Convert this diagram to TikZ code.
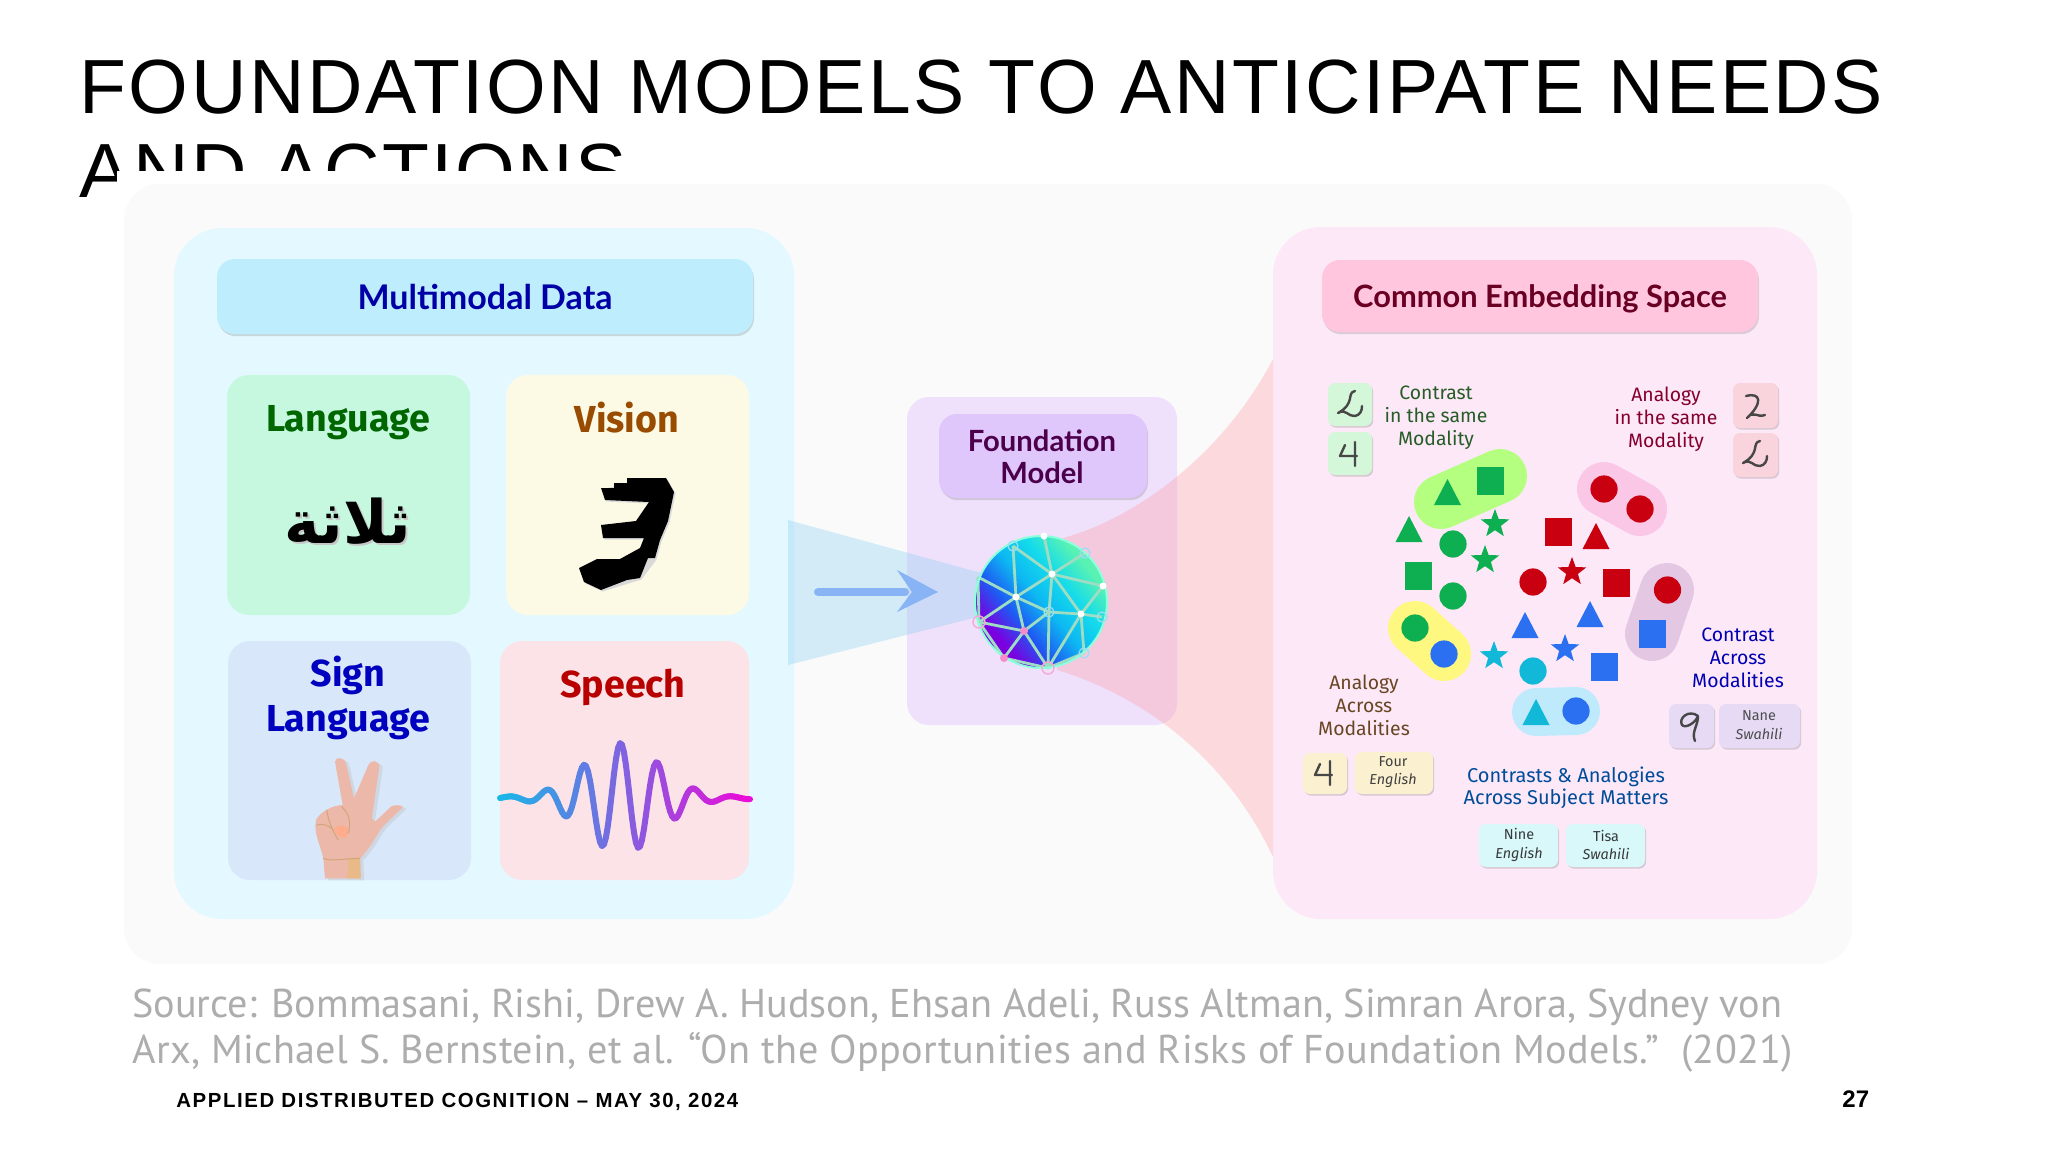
\documentclass[tikz,border=0pt]{standalone}
\usepackage{fontspec}
\usetikzlibrary{shadows,arrows.meta}
\TeXXeTstate=1
\setmainfont{Liberation Sans}
\newfontfamily\titlef[LetterSpace=3.3]{Liberation Sans}
\newfontfamily\footf[LetterSpace=7.7]{Liberation Sans}
\newfontfamily\srcf{PT Sans}
\newfontfamily\srcg[LetterSpace=.9]{PT Sans}
\newfontfamily\headf{Lato}
\newfontfamily\ubu{Fira Sans}
\newfontfamily\arabicfont[Script=Arabic]{DejaVu Sans}
\newcommand{\fsz}[2]{\fontsize{#1}{#2}\selectfont}
\definecolor{cardbg}{HTML}{FAFAFA}
\definecolor{leftp}{HTML}{E3F9FF}
\definecolor{rightp}{HTML}{FDE8F8}
\definecolor{midp}{HTML}{EFE1FB}
\definecolor{gshape}{HTML}{0DAF50}
\definecolor{rshape}{HTML}{C80010}
\definecolor{bshape}{HTML}{2A70F0}
\definecolor{cshape}{HTML}{12B8D8}
\definecolor{wcyan}{HTML}{18B8E8}
\definecolor{wmag}{HTML}{EA0CD8}
\definecolor{tlang}{HTML}{C6F8E0}
\definecolor{tvis}{HTML}{FCF9E5}
\definecolor{tsign}{HTML}{D8E8FA}
\definecolor{tspeech}{HTML}{FBE3E8}
\definecolor{bmulti}{HTML}{BEEDFE}
\definecolor{bfound}{HTML}{DFC6FB}
\definecolor{bcommon}{HTML}{FFC6DE}
\definecolor{arrowc}{HTML}{88B4F5}
\definecolor{fanblue}{HTML}{8CCDF2}
\definecolor{fanred}{HTML}{FF9DA8}
\definecolor{mgreen}{HTML}{D4F7DA}
\definecolor{mred}{HTML}{F9D4DC}
\definecolor{mcream}{HTML}{FBF0CF}
\definecolor{mviolet}{HTML}{E6DAF5}
\definecolor{mcyan}{HTML}{D8F8FA}
\pgfdeclarehorizontalshading{orbgrad}{100bp}{rgb(0bp)=(.48,0,.88);rgb(29bp)=(.48,0,.88);rgb(39bp)=(.12,.35,.95);rgb(50bp)=(.05,.72,.95);rgb(61bp)=(.08,.86,.92);rgb(72bp)=(.35,.95,.7);rgb(100bp)=(.35,.95,.7)}
\tikzset{
  every node/.style={inner sep=0pt,align=center},
  panel/.style={rounded corners=24pt},
  tile/.style={rounded corners=11pt},
  headbox/.style={rounded corners=9pt,drop shadow={shadow xshift=.5pt,shadow yshift=-1.1pt,opacity=.22,fill=black!60}},
  minicard/.style={rounded corners=3.5pt,drop shadow={shadow xshift=.6pt,shadow yshift=-.8pt,opacity=.25,fill=black!60}},
  digit/.style={draw=black!72,line width=1.2pt,line cap=round,line join=round},
  pill/.style={line width=27pt,line cap=round},
  titletext/.style={font=\titlef\fsz{38.4}{40},anchor=base west,text=black},
  srctext/.style={font=\srcf\fsz{20.1}{22},anchor=base west,text=black!32},
  foottext/.style={font=\footf\bfseries\fsz{10.2}{12},anchor=base west,text=black},
  headtext/.style={font=\headf\bfseries\fsz{17}{18}},
  tiletext/.style={font=\ubu\bfseries\fsz{18.8}{22},anchor=base},
  smalltext/.style={font=\ubu\fsz{9.7}{11.5}},
  subtext/.style={font=\ubu\fsz{7.2}{9.2}},
}
\newcommand{\tri}[3]{\fill[#3] (#1-13.5,#2+13) -- (#1,#2-13) -- (#1+13.5,#2+13) -- cycle;}
\newcommand{\squ}[3]{\fill[#3] (#1-13.5,#2-14) rectangle (#1+13.5,#2+14);}
\newcommand{\cir}[3]{\fill[#3] (#1,#2) circle (13.6);}
\newcommand{\sta}[3]{\fill[#3,shift={(#1,#2)}] (-90:15) -- (-54:6.2) -- (-18:15) -- (18:6.2) -- (54:15) -- (90:6.2) -- (126:15) -- (162:6.2) -- (198:15) -- (234:6.2) -- cycle;}
\newcommand{\hwtwo}[2]{\draw[digit,shift={(#1,#2)}] (5,-14) .. controls (-4,-12) and (6,-2) .. (-12,8) .. controls (-4,3) and (-2,12) .. (5,11) .. controls (10,10) and (12,6) .. (12,1);}
\newcommand{\hwfour}[2]{\draw[digit,shift={(#1,#2)}] (-5,-9) -- (-10,2) -- (7,2) (5,-12) -- (5,12);}
\begin{document}
\begin{tikzpicture}[x=.5pt,y=-.5pt]
\useasboundingbox (0,0) rectangle (2048,1152);
\fill[white] (0,0) rectangle (2048,1152);
% title
\node[titletext] (title1) at (79,113) {FOUNDATION MODELS TO ANTICIPATE NEEDS};
\node[titletext] (title2) at (79,197) {AND ACTIONS};
\fill[white] (117,171) rectangle (2048,1000);
% image card
\fill[cardbg,rounded corners=18pt] (124,184) rectangle (1852,964);
\fill[leftp,panel] (174,228) rectangle (794,919);
\fill[rightp,panel] (1273,227) rectangle (1817,919);
\fill[midp,rounded corners=11pt] (907,397) rectangle (1177,725);
% fans
\fill[fanred,opacity=.35] (1063,538) .. controls (1130,520) and (1220,460) .. (1273,359) -- (1273,857) .. controls (1225,755) and (1140,695) .. (1057,670) -- cycle;
\fill[fanblue,opacity=.35] (788,520) -- (985,574) -- (985,615) -- (788,665) -- cycle;
% arrow
\coordinate (arrowstart) at (818,592);
\coordinate (arrowend) at (938,592);
\draw[line width=4pt,line cap=round,color=arrowc] (arrowstart) -- (905,592);
\fill[arrowc] (arrowend) -- (897,570) -- (912,592) -- (897,612) -- cycle;
% left panel contents
\path[fill=bmulti,headbox] (217,259) rectangle (753,334);
\node[headtext,text=blue!65!black] (mmd) at (485,297) {Multimodal Data};
\fill[tlang,tile] (227,375) rectangle (470,615);
\fill[tvis,tile] (506,375) rectangle (749,615);
\fill[tsign,tile] (228,641) rectangle (471,880);
\fill[tspeech,tile] (500,641) rectangle (749,880);
\node[tiletext,text=green!40!black] (lang) at (348,431) {Language};
\node[tiletext,text=orange!60!black] (vis) at (627,432) {Vision};
\node[tiletext,text=blue!75!black] (sign) at (348,686) {Sign};
\node[tiletext,text=blue!75!black] (sign2) at (348,731) {Language};
\node[tiletext,text=red!72!black] (speech) at (623,697) {Speech};
% arabic
\node[font=\arabicfont\bfseries\fsz{30}{34},text=black!22] (arabshadow) at (350,523) {\beginR ثلاثة\endR};
\node[font=\arabicfont\bfseries\fsz{30}{34},text=black] (arab) at (348,521) {\beginR ثلاثة\endR};
% digit three
\fill[black!15,shift={(1.5,1.5)}] (601,488) -- (627,481) -- (666,478) -- (674,492) -- (668,521) -- (660,540) -- (655,558) -- (640,578) -- (601,590) -- (584,582) -- (579,568) -- (597,559) -- (620,559) -- (640,548) -- (644,538) -- (603,538) -- (601,525) -- (636,521) -- (649,502) -- (605,500) -- cycle;
\fill[black] (601,488) -- (614,488) -- (614,483) -- (627,483) -- (627,478) -- (666,478) -- (674,492) -- (668,521) -- (660,540) -- (655,558) -- (648,558) -- (640,578) -- (627,580) -- (601,590) -- (584,582) -- (579,568) -- (597,559) -- (620,559) -- (640,548) -- (644,538) -- (603,538) -- (601,525) -- (636,521) -- (649,502) -- (605,500) -- cycle;
% hand
\begin{scope}[shift={(270,730)},x=.1667pt,y=-.1667pt]
\fill[black!25,opacity=.4,shift={(10,6)}] (165,445) -- (160,385) .. controls (150,340) and (130,310) .. (138,270) .. controls (150,245) and (190,225) .. (218,225) -- (195,95) .. controls (195,80) and (222,80) .. (228,100) -- (252,205) -- (295,105) .. controls (300,88) and (328,90) .. (328,110) -- (305,265) -- (315,275) -- (365,228) .. controls (385,222) and (400,228) .. (398,232) .. controls (375,255) and (345,280) .. (330,300) .. controls (310,335) and (290,365) .. (270,385) -- (272,445) -- cycle;
\fill[orange!45!red!28!white!92!black] (165,445) -- (160,385) .. controls (150,340) and (130,310) .. (138,270) .. controls (150,245) and (190,225) .. (218,225) -- (195,95) .. controls (195,80) and (222,80) .. (228,100) -- (252,205) -- (295,105) .. controls (300,88) and (328,90) .. (328,110) -- (305,265) -- (315,275) -- (365,228) .. controls (385,222) and (400,228) .. (398,232) .. controls (375,255) and (345,280) .. (330,300) .. controls (310,335) and (290,365) .. (270,385) -- (272,445) -- cycle;
\fill[brown!60!orange!55!white] (235,385) -- (270,385) -- (272,445) -- (232,445) -- cycle;
\fill[red!45!orange!45!white] (190,300) .. controls (205,325) and (235,335) .. (235,300) .. controls (235,285) and (205,280) .. (190,300) -- cycle;
\draw[brown!70!white,line width=.5pt] (170,240) .. controls (175,270) and (185,300) .. (205,330) (215,230) .. controls (235,250) and (245,270) .. (235,310) (140,285) .. controls (160,280) and (175,285) .. (190,300) (160,385) .. controls (180,395) and (230,385) .. (270,385);
\end{scope}
% waveform
\foreach \i in {0,...,124}{
  \pgfmathsetmacro\xa{500+2*\i}
  \pgfmathsetmacro\xb{\xa+2}
  \pgfmathsetmacro\ya{798-(1+54*exp(-((\xa-622)/53)*((\xa-622)/53)))*cos(((\xa-620.5)/37)*360)}
  \pgfmathsetmacro\yb{798-(1+54*exp(-((\xb-622)/53)*((\xb-622)/53)))*cos(((\xb-620.5)/37)*360)}
  \pgfmathsetmacro\mixv{\i*100/124}
  \draw[line width=3pt,line cap=round,color=wmag!\mixv!wcyan] (\xa,\ya) -- (\xb,\yb);
}
% foundation model
\path[fill=bfound,headbox] (939,414) rectangle (1147,498);
\node[text=violet!60!black,font=\headf\bfseries\fsz{14.6}{15.8}] (fm) at (1042,457) {Foundation\\Model};
% sphere
\shade[shading=orbgrad,shading angle=40] (1041,602) circle (66);
\foreach \nm/\xx/\yy in {n1/1044/536,n2/1013/546,n3/1085/553,n4/1052/574,n5/1103/586,n6/978/577,n7/1016/597,n8/1049/612,n9/1081/614,n10/1102/617,n11/979/622,n12/1024/631,n13/1084/653,n14/1004/658,n15/1048/668}{\coordinate (\nm) at (\xx,\yy);}
\foreach \p/\q in {n1/n4,n2/n4,n2/n7,n3/n4,n4/n5,n4/n7,n4/n8,n4/n9,n5/n9,n6/n7,n7/n11,n7/n8,n7/n12,n8/n9,n8/n12,n9/n10,n9/n15,n9/n13,n8/n15,n11/n12,n12/n14,n12/n15,n11/n14,n14/n15,n6/n11,n13/n15}{\draw[line width=1.4pt,color=cyan!35!green!38!white] (\p) -- (\q);}
\draw[line width=1pt,color=green!30!cyan!45!white] (1041,602) circle (66);
\foreach \p in {n1,n4,n5,n7,n9}{\fill[white] (\p) circle (3.5);}
\foreach \p in {n2,n3,n8,n10,n13}{\draw[white!60!cyan,line width=.6pt] (\p) circle (5);}
\foreach \p in {n12,n14}{\fill[magenta!45!white] (\p) circle (4);}
\foreach \p in {n11,n15}{\draw[magenta!35!white,line width=.7pt] (\p) circle (6);}
% right panel
\path[fill=bcommon,headbox] (1322,260) rectangle (1758,332);
\node[text=purple!55!black,font=\headf\bfseries\fsz{15.4}{18}] (ces) at (1540,299) {Common Embedding Space};
% mini cards top
\path[fill=mgreen,minicard] (1328,383) rectangle (1372,426);
\path[fill=mgreen,minicard] (1328,432) rectangle (1372,475);
\path[fill=mred,minicard] (1733,383) rectangle (1778,428);
\path[fill=mred,minicard] (1733,433) rectangle (1778,477);
\hwtwo{1350}{405}
\hwfour{1350}{454}
\draw[digit,shift={(1755,406)}] (-9,-10) .. controls (6,-14) and (8,-3) .. (-8,12) .. controls (-2,4) and (2,12) .. (10,9);
\hwtwo{1755}{455}
\node[smalltext,text=green!25!black!85] (c1) at (1436,418) {Contrast\\in the same\\Modality};
\node[smalltext,text=purple!70!black] (a1) at (1666,419) {Analogy\\in the same\\Modality};
% pills
\draw[pill,color=lime!55!green!50!white] (1441,502) -- (1500,476);
\draw[pill,color=magenta!22!white] (1604,489) -- (1640,509);
\draw[pill,color=violet!22!white] (1667,590) -- (1652,634);
\draw[pill,color=yellow!50!white] (1415,628) -- (1444,654);
\draw[pill,color=cyan!25!white,line width=24pt] (1536,712) -- (1576,711);
% shapes green
\tri{1447.5}{492}{gshape}\squ{1490}{481}{gshape}\tri{1409}{529}{gshape}\cir{1453}{544}{gshape}
\sta{1495}{524}{gshape}\sta{1485}{560}{gshape}\squ{1418.5}{576}{gshape}\cir{1453}{596}{gshape}\cir{1415}{628}{gshape}
% red
\cir{1604}{489}{rshape}\cir{1640}{509}{rshape}\squ{1558}{532}{rshape}\tri{1596}{536}{rshape}
\cir{1533}{582}{rshape}\sta{1572}{572}{rshape}\squ{1616}{583}{rshape}\cir{1667.5}{590}{rshape}
% blue
\tri{1590}{614}{bshape}\tri{1525}{625}{bshape}\sta{1565}{649}{bshape}\squ{1604}{667}{bshape}\squ{1652.5}{634}{bshape}\cir{1444}{654}{bshape}\cir{1576}{711}{bshape}
% cyan
\sta{1494}{656}{cshape}\cir{1533}{671}{cshape}\tri{1536}{712}{cshape}
% lower texts
\node[smalltext,text=blue!70!black] (c2) at (1738,658) {Contrast\\Across\\Modalities};
\node[smalltext,text=brown!55!black] (a2) at (1364,705) {Analogy\\Across\\Modalities};
\node[text=blue!50!cyan!60!black,font=\ubu\fsz{10}{11.2}] (csa) at (1566,788) {Contrasts \& Analogies\\Across Subject Matters};
\path[fill=mcream,minicard] (1303,753) rectangle (1347,794);
\hwfour{1325}{773}
\path[fill=mcream,minicard] (1355,752) rectangle (1433,794);
\node[subtext,text=black!75] (four) at (1393,772) {Four\\\itshape English};
\path[fill=mviolet,minicard] (1669,704) rectangle (1714,748);
\draw[digit,shift={(1691,726)}] (7,-10) .. controls (-2,-17) and (-13,-8) .. (-9,-1) .. controls (-5,3) and (5,-4) .. (7,-10) .. controls (7,0) and (0,6) .. (4,15);
\path[fill=mviolet,minicard] (1719,704) rectangle (1800,748);
\node[subtext,text=black!70] (nane) at (1759,725) {Nane\\\itshape Swahili};
\path[fill=mcyan,minicard] (1479,824) rectangle (1558,867);
\node[subtext,text=black!78] (nine) at (1519,845) {Nine\\\itshape English};
\path[fill=mcyan,minicard] (1566,824) rectangle (1645,867);
\node[subtext,text=black!78] (tisa) at (1606,845) {Tisa\\\itshape Swahili};
% source & footer
\node[srctext] (src1) at (132,1017) {Source: Bommasani, Rishi, Drew A. Hudson, Ehsan Adeli, Russ Altman, Simran Arora, Sydney von};
\node[srctext,font=\srcg\fsz{20.1}{22}] (src2) at (132,1063) {Arx, Michael S. Bernstein, et al. “On the Opportunities and Risks of Foundation Models.”\ \ (2021)};
\node[foottext] (foot) at (176,1107) {APPLIED DISTRIBUTED COGNITION – MAY 30, 2024};
\node[anchor=base west,font=\bfseries\fsz{12}{12}] (page) at (1842,1107) {27};
\end{tikzpicture}
\end{document}
